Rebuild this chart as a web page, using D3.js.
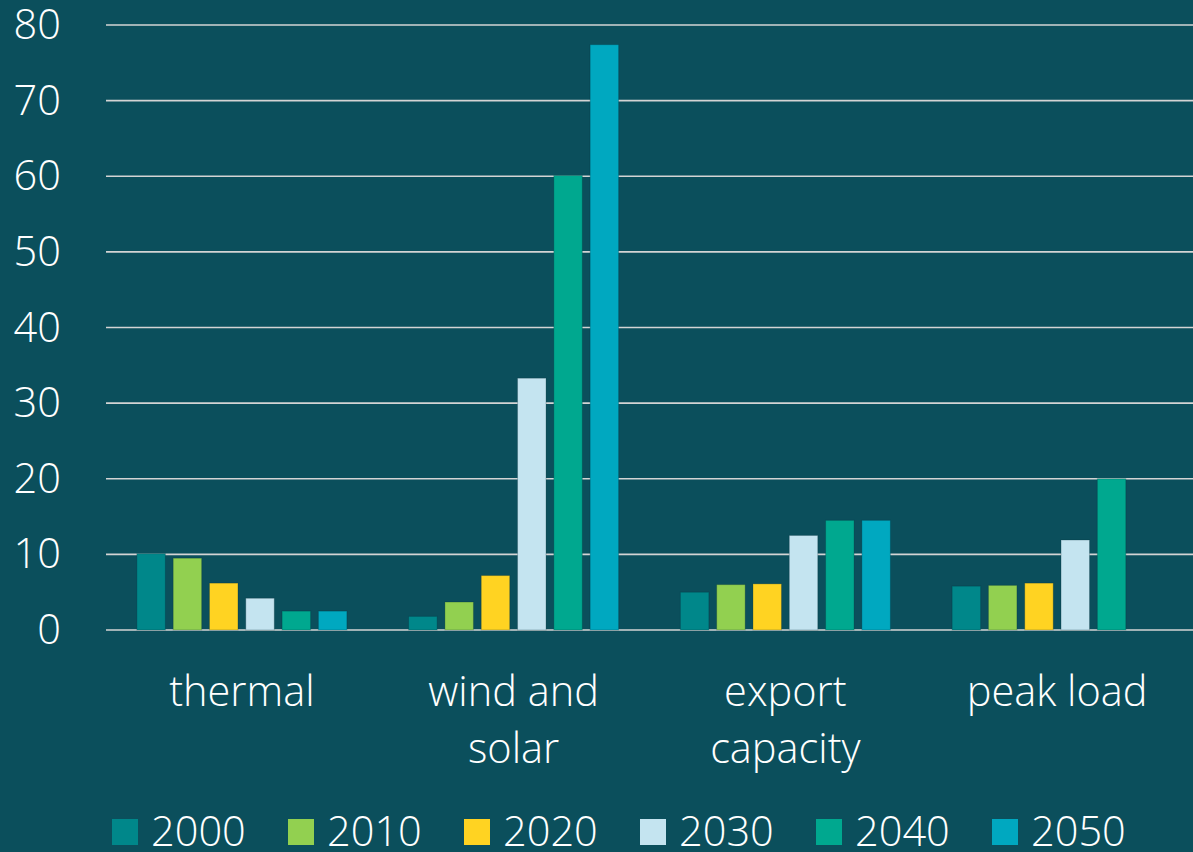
<!DOCTYPE html>
<html>
<head>
<meta charset="utf-8">
<script src="https://cdn.jsdelivr.net/npm/d3@7"></script>
<style>
  html, body { margin: 0; padding: 0; background: #0b4f5c; }
  svg { display: block; }
  text { font-family: "Open Sans", "Noto Sans", sans-serif; font-weight: 300; fill: #ffffff; }
</style>
</head>
<body>
<svg id="chart" width="1193" height="852"></svg>
<script>
const categories = [["thermal"], ["wind and", "solar"], ["export", "capacity"], ["peak load"]];
const categoryKeys = ["thermal", "wind and solar", "export capacity", "peak load"];
const seriesNames = ["2000", "2010", "2020", "2030", "2040", "2050"];
const seriesColors = ["#00878a", "#92d050", "#ffd322", "#c4e4f0", "#00a88f", "#00a8c0"];
const v2000 = [10.1, 1.8, 5.0, 5.8];
const v2010 = [9.5, 3.7, 6.0, 5.9];
const v2020 = [6.2, 7.2, 6.1, 6.2];
const v2030 = [4.2, 33.3, 12.5, 11.9];
const v2040 = [2.5, 60.1, 14.5, 20.0];
const v2050 = [2.5, 77.4, 14.5, null];
const yTicks = [0, 10, 20, 30, 40, 50, 60, 70, 80];

const seriesValues = [v2000, v2010, v2020, v2030, v2040, v2050];

(function () {
const svg = d3.select("#chart");
const plotLeft = 106, plotRight = 1193, plotTop = 25, plotBottom = 630;
const fs = 41.5;

const y = d3.scaleLinear().domain([0, 80]).range([plotBottom, plotTop]);
const x0 = d3.scaleBand().domain(categoryKeys).range([plotLeft, plotRight]).paddingInner(0.2272).paddingOuter(0.1136);
const x1 = d3.scaleBand().domain(seriesNames).range([0, x0.bandwidth()]).paddingInner(0.215).paddingOuter(0);

// gridlines
svg.append("g").selectAll("line").data(yTicks).join("line")
  .attr("x1", plotLeft).attr("x2", plotRight)
  .attr("y1", d => y(d)).attr("y2", d => y(d))
  .attr("stroke", "#d4d4d4").attr("stroke-width", 1.6);

// y labels
svg.append("g").selectAll("text").data(yTicks).join("text")
  .attr("x", 61).attr("y", d => y(d)).attr("dy", "0.34em")
  .attr("text-anchor", "end").attr("font-size", fs)
  .text(d => d);

// bars
const g = svg.append("g");
seriesNames.forEach((s, si) => {
  const data = categoryKeys.map((c, ci) => ({c, v: seriesValues[si][ci]})).filter(d => d.v != null);
  g.append("g").selectAll("rect").data(data).join("rect")
    .attr("x", d => x0(d.c) + x1(s))
    .attr("width", x1.bandwidth())
    .attr("y", d => y(d.v))
    .attr("height", d => y(0) - y(d.v))
    .attr("fill", seriesColors[si])
    .attr("stroke", "rgba(0,40,50,0.25)").attr("stroke-width", 1);
});

// category labels
const cl = svg.append("g");
categoryKeys.forEach((c, i) => {
  const cx = x0(c) + x0.bandwidth() / 2;
  const t = cl.append("text").attr("text-anchor", "middle").attr("font-size", fs);
  categories[i].forEach((line, li) => {
    t.append("tspan").attr("x", cx).attr("y", 706 + li * 57).text(line);
  });
});

// legend
const legendX = [112, 288, 464, 640, 816, 992];
const lg = svg.append("g");
seriesNames.forEach((s, i) => {
  lg.append("rect").attr("x", legendX[i]).attr("y", 819).attr("width", 26).attr("height", 26).attr("fill", seriesColors[i]);
  lg.append("text").attr("x", legendX[i] + 39).attr("y", 832).attr("dy", "0.34em").attr("font-size", fs).text(s);
});
})();
</script>
</body>
</html>
